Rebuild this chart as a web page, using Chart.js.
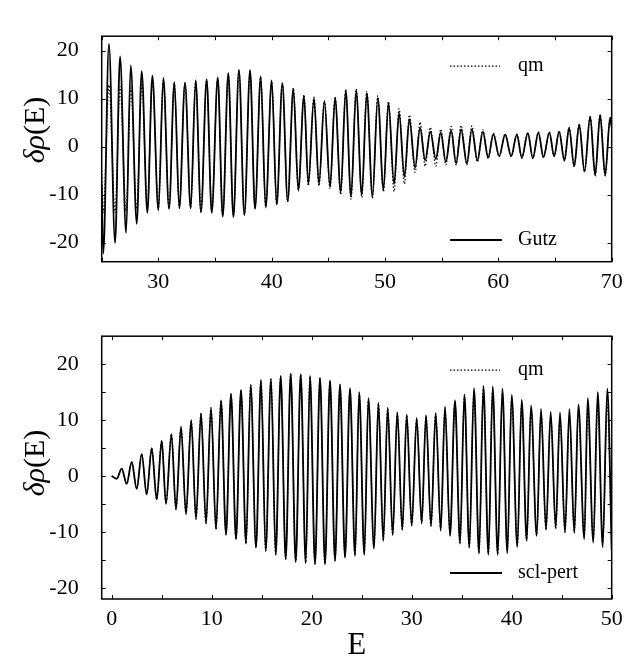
<!DOCTYPE html>
<html>
<head>
<meta charset="utf-8">
<script src="https://cdn.jsdelivr.net/npm/chart.js@4.4.1/dist/chart.umd.min.js"></script>
<style>
  html, body { margin: 0; padding: 0; background: #fff; }
  #wrap { position: relative; width: 641px; height: 666px; }
  canvas { position: absolute; left: 0; }
  #upper { top: 0; }
  #lower { top: 300px; }
</style>
</head>
<body>
<div id="wrap">
  <canvas id="upper" width="641" height="300"></canvas>
  <canvas id="lower" width="641" height="366"></canvas>
</div>
<script>
const serif = '"Liberation Serif", "Times New Roman", serif';

// upper panel: turning points of the curves
const topE = [
  25.0, 25.14, 25.64, 26.18, 26.62, 27.15, 27.56, 28.09, 28.53, 29.03,
  29.47, 30.0, 30.44, 30.94, 31.41, 31.85, 32.35, 32.85, 33.29, 33.76,
  34.26, 34.71, 35.24, 35.68, 36.17, 36.62, 37.11, 37.59, 38.09, 38.53,
  39.03, 39.47, 40.0, 40.44, 40.94, 41.41, 41.91, 42.35, 42.85, 43.23,
  43.73, 44.17, 44.65, 45.15, 45.59, 46.09, 46.53, 47.0, 47.45, 47.95,
  48.39, 48.89, 49.36, 49.86, 50.3, 50.8, 51.24, 51.71, 52.15, 52.65,
  53.09, 53.54, 54.0, 54.48, 54.92, 55.36, 55.83, 56.27, 56.71, 57.22,
  57.66, 58.15, 58.63, 59.1, 59.56, 60.07, 60.6, 61.13, 61.63, 62.07,
  62.6, 63.04, 63.53, 63.98, 64.5, 64.92, 65.36, 65.83, 66.24, 66.69,
  67.13, 67.6, 68.1, 68.54, 68.98, 69.42, 69.86, 70.0
];
const topGutz = [
  -8, -22.3, 21.4, -20.1, 18.8, -18.0, 16.9, -16.1, 15.7, -13.8,
  14.8, -13.3, 14.3, -13.0, 13.4, -12.9, 13.3, -12.9, 13.8, -13.7,
  14.0, -13.8, 14.4, -14.6, 15.3, -14.7, 16.0, -14.3, 15.9, -13.0,
  14.6, -12.7, 13.8, -12.1, 13.2, -11.4, 12.0, -9.0, 10.5, -7.8,
  10.1, -7.8, 9.4, -8.4, 10.1, -9.5, 11.6, -10.4, 11.6, -10.0,
  11.1, -10.3, 10.1, -9.0, 9.1, -7.8, 7.0, -6.3, 5.7, -4.4,
  3.9, -2.9, 3.1, -2.6, 2.9, -3.2, 3.3, -3.5, 3.6, -3.5,
  3.6, -2.9, 3.1, -2.3, 2.6, -2.0, 2.5, -2.0, 2.5, -2.3,
  2.8, -2.4, 2.9, -2.2, 2.9, -2.0, 3.1, -2.9, 3.9, -4.1,
  4.6, -5.2, 6.3, -6.0, 6.6, -6.0, 6.0, 4.0
];
const topQm = [
  -5, -13.8, 12.8, -13.8, 12.5, -13.5, 12.2, -13.0, 12.8, -12.5,
  13.5, -12.8, 13.8, -12.8, 13.2, -12.7, 13.1, -12.7, 13.6, -13.5,
  13.8, -13.6, 14.2, -14.4, 15.1, -14.5, 15.8, -14.1, 15.7, -12.8,
  14.4, -12.5, 13.6, -12.0, 13.1, -11.5, 12.2, -9.3, 10.8, -8.2,
  10.3, -8.2, 9.6, -8.8, 10.4, -10.0, 11.9, -11.0, 12.0, -10.6,
  11.5, -10.8, 10.6, -9.4, 9.4, -9.4, 7.9, -7.8, 6.6, -5.4,
  5.1, -4.1, 4.0, -4.1, 3.6, -3.8, 4.2, -3.8, 4.4, -3.8,
  4.3, -3.2, 3.5, -2.5, 2.8, -2.1, 2.6, -2.1, 2.6, -2.4,
  2.9, -2.5, 3.0, -2.3, 3.0, -2.1, 3.2, -3.0, 4.0, -4.2,
  4.7, -5.3, 6.4, -6.1, 6.7, -6.1, 6.1, 4.1
];
const topXTicks = [25, 30, 35, 40, 45, 50, 55, 60, 65, 70];
const topYTicks = [-20, -15, -10, -5, 0, 5, 10, 15, 20];

// lower panel
const botE = [
  0.0, 0.5, 1.0, 1.5, 2.0, 2.5, 3.0, 3.5, 4.0, 4.5,
  5.0, 5.43, 5.97, 6.43, 6.93, 7.43, 7.95, 8.43, 8.93, 9.43,
  9.93, 10.43, 10.93, 11.43, 11.93, 12.43, 12.93, 13.43, 13.9, 14.43,
  14.93, 15.4, 15.93, 16.4, 16.9, 17.4, 17.9, 18.4, 18.9, 19.4,
  19.83, 20.33, 20.83, 21.33, 21.83, 22.33, 22.83, 23.33, 23.83, 24.33,
  24.75, 25.26, 25.67, 26.23, 26.67, 27.16, 27.6, 28.1, 28.56, 29.06,
  29.5, 30.0, 30.5, 31.0, 31.43, 31.93, 32.4, 32.9, 33.33, 33.83,
  34.33, 34.83, 35.27, 35.76, 36.23, 36.73, 37.17, 37.67, 38.1, 38.6,
  39.07, 39.56, 40.0, 40.56, 41.0, 41.5, 41.93, 42.5, 42.93, 43.43,
  43.9, 44.4, 44.83, 45.33, 45.77, 46.26, 46.67, 47.26, 47.6, 48.16,
  48.6, 49.1, 49.56, 50.0
];
const botScl = [
  0.0, -0.5, 1.3, -1.4, 2.5, -2.3, 3.9, -3.3, 5.0, -4.2,
  6.3, -5.0, 7.5, -6.0, 8.8, -6.8, 10.0, -7.7, 11.2, -8.5,
  12.2, -9.5, 13.5, -10.5, 14.7, -11.3, 15.4, -12.1, 16.3, -12.8,
  17.2, -13.4, 17.4, -14.1, 17.9, -14.9, 18.3, -15.4, 18.2, -15.6,
  17.9, -15.8, 17.6, -15.8, 17.1, -15.2, 16.4, -14.6, 15.7, -14.3,
  15.0, -14.1, 13.9, -13.0, 13.1, -11.6, 12.2, -10.6, 11.4, -9.7,
  11.0, -8.9, 10.4, -8.5, 10.9, -9.0, 11.3, -9.8, 12.4, -10.7,
  13.5, -12.1, 14.6, -12.8, 15.7, -13.9, 16.1, -14.1, 16.0, -14.1,
  15.6, -13.8, 14.5, -12.7, 13.6, -11.6, 12.6, -10.7, 12.0, -9.6,
  11.5, -9.3, 11.4, -10.1, 12.0, -10.2, 12.8, -11.3, 13.9, -11.9,
  15.0, -12.7, 15.6, -13.3
];
const botQm = [
  0.0, -0.5, 1.3, -1.4, 2.5, -2.3, 3.9, -3.3, 5.0, -4.2,
  6.3, -5.0, 7.5, -6.0, 8.8, -6.8, 10.0, -7.7, 11.2, -8.5,
  12.2, -9.5, 13.5, -10.5, 14.7, -11.3, 15.4, -12.1, 16.3, -12.8,
  17.1, -13.4, 17.3, -14.0, 17.8, -14.8, 18.2, -15.3, 18.1, -15.5,
  17.8, -15.7, 17.5, -15.7, 17.0, -15.1, 16.3, -14.5, 15.5, -14.1,
  14.8, -13.9, 13.7, -12.8, 12.9, -11.4, 12.0, -10.4, 11.2, -9.5,
  10.8, -8.8, 10.2, -8.4, 10.7, -8.9, 11.1, -9.6, 12.1, -10.5,
  13.2, -11.9, 14.3, -12.6, 15.3, -13.6, 15.6, -13.8, 15.4, -13.8,
  14.8, -13.4, 13.8, -12.4, 12.9, -11.4, 11.8, -10.6, 11.2, -9.6,
  10.6, -9.4, 10.4, -10.0, 10.8, -10.0, 11.3, -10.8, 12.0, -11.2,
  12.6, -11.8, 12.8, -12.5
];
const botXTicks = [0, 5, 10, 15, 20, 25, 30, 35, 40, 45, 50];
const botYTicks = [-20, -15, -10, -5, 0, 5, 10, 15, 20];

function toPoints(xs, ys) {
  return xs.map((x, i) => ({ x: x, y: ys[i] }));
}

function tenths(v) {
  return v % 10 === 0 ? String(v) : '';
}

// box round the plot with short inward ticks on all four sides
const frame = {
  id: 'frame',
  afterDatasetsDraw(chart) {
    const { ctx, chartArea: a, scales: { x, y } } = chart;
    ctx.save();
    ctx.strokeStyle = '#000';
    ctx.lineWidth = 1;
    ctx.beginPath();
    x.ticks.forEach(t => {
      const px = Math.round(x.getPixelForValue(t.value)) + 0.5;
      ctx.moveTo(px, a.bottom); ctx.lineTo(px, a.bottom - 4);
      ctx.moveTo(px, a.top); ctx.lineTo(px, a.top + 4);
    });
    y.ticks.forEach(t => {
      const py = Math.round(y.getPixelForValue(t.value)) + 0.5;
      ctx.moveTo(a.left, py); ctx.lineTo(a.left + 4, py);
      ctx.moveTo(a.right, py); ctx.lineTo(a.right - 4, py);
    });
    ctx.stroke();
    ctx.lineWidth = 1.5;
    ctx.strokeRect(a.left, a.top, a.right - a.left, a.bottom - a.top);
    ctx.restore();
  }
};

// legend entries placed inside the plot, plus the rotated y title
function decor(keys, titleY) {
  return {
    id: 'decor',
    afterDraw(chart) {
      const { ctx, chartArea: a } = chart;
      ctx.save();
      ctx.fillStyle = '#000';
      ctx.strokeStyle = '#000';
      ctx.textBaseline = 'middle';
      keys.forEach(k => {
        const ds = chart.data.datasets[k.ds];
        const yy = k.fromTop ? a.top + k.off : a.bottom - k.off;
        ctx.lineWidth = ds.borderWidth;
        ctx.setLineDash(ds.borderDash || []);
        ctx.beginPath();
        ctx.moveTo(450, yy);
        ctx.lineTo(k.len, yy);
        ctx.stroke();
        ctx.setLineDash([]);
        ctx.font = '20px ' + serif;
        ctx.fillText(ds.label, 518, yy);
      });
      ctx.translate(36, titleY);
      ctx.rotate(-Math.PI / 2);
      ctx.font = 'italic 30px ' + serif;
      const w1 = ctx.measureText('δρ').width;
      ctx.font = '30px ' + serif;
      const w2 = ctx.measureText('(E)').width;
      let sx = -(w1 + w2) / 2;
      ctx.font = 'italic 30px ' + serif;
      ctx.fillText('δρ', sx, 0);
      ctx.font = '30px ' + serif;
      ctx.fillText('(E)', sx + w1, 0);
      ctx.restore();
    }
  };
}

function panel(id, cfg) {
  return new Chart(document.getElementById(id), {
    type: 'line',
    data: {
      datasets: [{
        label: cfg.solidLabel,
        data: toPoints(cfg.e, cfg.solid),
        borderColor: '#000',
        borderWidth: 1.8,
        pointRadius: 0,
        cubicInterpolationMode: 'monotone'
      }, {
        label: 'qm',
        data: toPoints(cfg.e, cfg.qm),
        borderColor: '#000',
        borderWidth: 1.2,
        borderDash: [1.5, 2],
        pointRadius: 0,
        cubicInterpolationMode: 'monotone'
      }]
    },
    options: {
      responsive: false,
      animation: false,
      events: [],
      layout: { padding: { left: 0, right: 29.3, top: cfg.padTop, bottom: 0 } },
      plugins: { legend: { display: false }, tooltip: { enabled: false } },
      scales: {
        x: {
          type: 'linear',
          min: cfg.xMin,
          max: cfg.xMax,
          grid: { display: false, drawTicks: false },
          border: { display: false },
          afterBuildTicks: s => { s.ticks = cfg.xTicks.map(v => ({ value: v })); },
          afterFit: s => { s.height = cfg.xHeight; },
          ticks: {
            autoSkip: false,
            maxRotation: 0,
            padding: 7,
            color: '#000',
            font: { family: serif, size: 22 },
            callback: tenths
          },
          title: {
            display: !!cfg.xTitle,
            text: cfg.xTitle || '',
            color: '#000',
            font: { family: serif, size: 31 },
            padding: { top: 0, bottom: 2 }
          }
        },
        y: {
          min: cfg.yMin,
          max: cfg.yMax,
          grid: { display: false, drawTicks: false },
          border: { display: false },
          afterBuildTicks: s => { s.ticks = cfg.yTicks.map(v => ({ value: v })); },
          afterFit: s => { s.width = 101.7; },
          ticks: {
            padding: 23,
            color: '#000',
            font: { family: serif, size: 22 },
            callback: tenths
          }
        }
      }
    },
    plugins: [frame, decor(cfg.keys, cfg.titleY)]
  });
}

panel('upper', {
  e: topE, solid: topGutz, qm: topQm, solidLabel: 'Gutz',
  xMin: 25, xMax: 70, yMin: -24, yMax: 23,
  xTicks: topXTicks, yTicks: topYTicks,
  padTop: 6, xHeight: 38.3, titleY: 130,
  keys: [{ ds: 1, fromTop: true, off: 30, len: 500 }, { ds: 0, fromTop: false, off: 21.7, len: 502 }]
});

panel('lower', {
  e: botE, solid: botScl, qm: botQm, solidLabel: 'scl-pert', xTitle: 'E',
  xMin: -1, xMax: 50, yMin: -22, yMax: 25,
  xTicks: botXTicks, yTicks: botYTicks,
  padTop: 15.7, xHeight: 67, titleY: 163,
  keys: [{ ds: 1, fromTop: true, off: 34, len: 500 }, { ds: 0, fromTop: false, off: 21.7 + 4.3, len: 502 }]
});
</script>
</body>
</html>
